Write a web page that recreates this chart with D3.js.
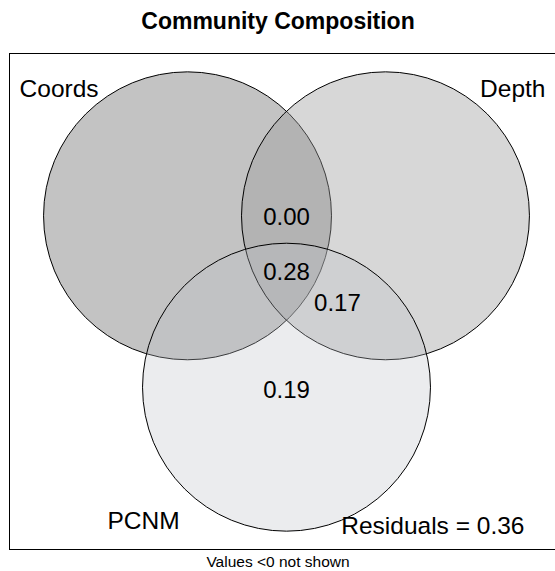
<!DOCTYPE html>
<html>
<head>
<meta charset="utf-8">
<script src="https://cdn.jsdelivr.net/npm/d3@7"></script>
<style>
  html, body { margin: 0; padding: 0; background: #fff; }
  svg { display: block; font-family: "Liberation Sans", Arial, sans-serif; }
</style>
</head>
<body>
<script>
// Variation partitioning of community composition among three explanatory sets
const setNames = ["Coords", "Depth", "PCNM"];
const setCentersX = [-0.6875, 0.6875, 0];
const setCentersY = [0.595, 0.595, -0.595];
const setColors = ["#696969", "#9b9b9b", "#bcc0c6"];
const setAlpha = [0.4, 0.4, 0.3];

// Adjusted R² fractions that are shown (negative ones are omitted)
const fractionValues = [0.00, 0.28, 0.17, 0.19];
const fractionX = [0, 0, 0.354, 0];
const fractionY = [0.587, 0.205, -0.01, -0.608];

const residualValue = 0.36;

const W = 555, H = 571;
const svg = d3.select("body").append("svg").attr("width", W).attr("height", H);

// Plot region in data units (unit circles)
const x = d3.scaleLinear().domain([-1.924, 1.924]).range([9.5, 563.5]);
const y = d3.scaleLinear().domain([-1.722, 1.722]).range([549.5, 53.5]);
const rPx = x(1) - x(0);

svg.append("text")
  .attr("x", 278).attr("y", 29)
  .attr("text-anchor", "middle")
  .attr("font-size", 23).attr("font-weight", "bold")
  .text("Community Composition");

const g = svg.append("g");

g.selectAll("circle.set")
  .data(setNames)
  .join("circle")
  .attr("class", "set")
  .attr("cx", (d, i) => x(setCentersX[i]))
  .attr("cy", (d, i) => y(setCentersY[i]))
  .attr("r", rPx)
  .attr("fill", (d, i) => setColors[i])
  .attr("fill-opacity", (d, i) => setAlpha[i])
  .attr("stroke", "#000")
  .attr("stroke-width", 1);

// Plot frame
g.append("rect")
  .attr("x", x(-1.924)).attr("y", y(1.722))
  .attr("width", x(1.924) - x(-1.924))
  .attr("height", y(-1.722) - y(1.722))
  .attr("fill", "none").attr("stroke", "#000").attr("stroke-width", 1);

// Set labels
const labelPos = [
  { x: -1.854, y: 1.42, anchor: "start" },
  { x: 1.799, y: 1.42, anchor: "end" },
  { x: -1.243, y: -1.58, anchor: "start" }
];
g.selectAll("text.setname")
  .data(setNames)
  .join("text")
  .attr("class", "setname")
  .attr("x", (d, i) => x(labelPos[i].x))
  .attr("y", (d, i) => y(labelPos[i].y))
  .attr("text-anchor", (d, i) => labelPos[i].anchor)
  .attr("font-size", 24.5)
  .text(d => d);

// Fraction values
g.selectAll("text.frac")
  .data(fractionValues)
  .join("text")
  .attr("class", "frac")
  .attr("x", (d, i) => x(fractionX[i]))
  .attr("y", (d, i) => y(fractionY[i]))
  .attr("text-anchor", "middle")
  .attr("dominant-baseline", "central")
  .attr("font-size", 24)
  .text(d => d3.format(".2f")(d));

g.append("text")
  .attr("x", x(1.653)).attr("y", y(-1.615))
  .attr("text-anchor", "end")
  .attr("font-size", 24.5)
  .text("Residuals = " + d3.format(".2f")(residualValue));

svg.append("text")
  .attr("x", 278).attr("y", 567)
  .attr("text-anchor", "middle")
  .attr("font-size", 15.5)
  .text("Values <0 not shown");
</script>
</body>
</html>
